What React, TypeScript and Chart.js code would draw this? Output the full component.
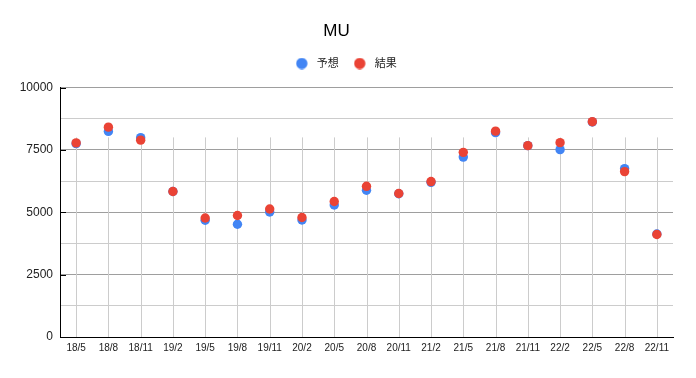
import React, { useEffect, useRef } from "react";
import { Chart, registerables } from "chart.js";

Chart.register(...registerables);

const TITLE = "MU";
const categories = ["18/5", "18/8", "18/11", "19/2", "19/5", "19/8", "19/11", "20/2", "20/5", "20/8", "20/11", "21/2", "21/5", "21/8", "21/11", "22/2", "22/5", "22/8", "22/11"];
const forecastLabel = "予想";
const actualLabel = "結果";
const forecast = [7750, 8240, 7990, 5830, 4680, 4520, 5010, 4690, 5290, 5880, 5740, 6200, 7210, 8190, 7670, 7510, 8620, 6750, 4130];
const actual = [7780, 8410, 7890, 5830, 4770, 4870, 5130, 4790, 5430, 6040, 5750, 6230, 7400, 8250, 7670, 7790, 8630, 6630, 4110];
const Y_MIN = 0;
const Y_MAX = 10000;
const Y_STEP = 1250;
const Y_LABEL_STEP = 2500;
const VGRID_TOP_VALUE = 8000;

const BLUE = "#4285F4";
const RED = "#EA4335";
const COLORS = [BLUE, RED];
const FONT = "Arial, 'Liberation Sans', 'Noto Sans CJK JP', sans-serif";
const LEGEND_HEIGHT = 50;
const LEGEND_SHIFT_X = 12;
const LEGEND_SHIFT_Y = 1;

function makeLegendDot(color: string) {
  const c = document.createElement("canvas");
  c.width = 20;
  c.height = 12;
  const g = c.getContext("2d")!;
  g.fillStyle = color;
  g.beginPath();
  g.arc(6, 6, 5.7, 0, Math.PI * 2);
  g.fill();
  return c;
}

const customPlugin = {
  id: "custom",
  beforeLayout(chart: any) {
    const lg = chart.legend;
    if (lg && !lg.__patched) {
      const origFit = lg.fit.bind(lg);
      lg.fit = function () {
        origFit();
        this.height = LEGEND_HEIGHT;
      };
      const origDraw = lg.draw.bind(lg);
      lg.draw = function () {
        const ctx = this.ctx;
        ctx.save();
        ctx.translate(LEGEND_SHIFT_X, LEGEND_SHIFT_Y);
        origDraw();
        ctx.restore();
      };
      lg.__patched = true;
    }
  },
  beforeDatasetsDraw(chart: any) {
    const x = chart.scales.x;
    const y = chart.scales.y;
    const ctx = chart.ctx;
    const area = chart.chartArea;
    const top = y.getPixelForValue(VGRID_TOP_VALUE);
    ctx.save();
    ctx.strokeStyle = "#cccccc";
    ctx.lineWidth = 1;
    for (let i = 0; i < categories.length; i++) {
      const px = Math.round(x.getPixelForValue(i)) + 0.5;
      ctx.beginPath();
      ctx.moveTo(px, top);
      ctx.lineTo(px, area.bottom);
      ctx.stroke();
    }
    ctx.strokeStyle = "#000";
    for (let v = Y_MIN + Y_LABEL_STEP; v <= Y_MAX; v += Y_LABEL_STEP) {
      const py = Math.round(y.getPixelForValue(v)) + 0.5;
      ctx.beginPath();
      ctx.moveTo(area.left, py);
      ctx.lineTo(area.left + 6, py);
      ctx.stroke();
    }
    ctx.restore();
  },
};

export default function App() {
  const ref = useRef<HTMLCanvasElement | null>(null);
  useEffect(() => {
    if (!ref.current) return;
    const dots = COLORS.map(makeLegendDot);
    const chart = new Chart(ref.current, {
      type: "scatter" as any,
      data: {
        labels: categories,
        datasets: [
          {
            label: forecastLabel,
            data: forecast,
            backgroundColor: BLUE,
            borderColor: BLUE,
            pointRadius: 4.7,
            pointBorderWidth: 0,
            showLine: false,
            order: 1,
          },
          {
            label: actualLabel,
            data: actual,
            backgroundColor: RED,
            borderColor: RED,
            pointRadius: 4.7,
            pointBorderWidth: 0,
            showLine: false,
            order: 0,
          },
        ],
      } as any,
      plugins: [customPlugin],
      options: {
        animation: false,
        responsive: false,
        layout: { padding: { left: 0, right: 23, top: 0, bottom: 0 } },
        plugins: {
          title: {
            display: true,
            text: TITLE,
            color: "#000",
            font: { family: FONT, size: 17, weight: "normal", lineHeight: 0.75 },
            padding: { top: 24.75, bottom: 0 },
          },
          legend: {
            display: true,
            labels: {
              usePointStyle: true,
              boxWidth: 11,
              boxHeight: 11,
              padding: 19.5,
              color: "#222",
              font: { family: FONT, size: 11 },
              generateLabels: (ch: any) => {
                const items = Chart.defaults.plugins.legend.labels.generateLabels(ch);
                items.forEach((it: any) => {
                  it.pointStyle = dots[it.datasetIndex];
                });
                return items.sort((a: any, b: any) => a.datasetIndex - b.datasetIndex);
              },
            },
          },
          tooltip: { enabled: false },
        },
        scales: {
          x: {
            type: "category",
            labels: categories,
            offset: true,
            grid: { display: false, drawTicks: false },
            border: { display: true, color: "#000", width: 1 },
            ticks: {
              color: "#222",
              font: { family: FONT, size: 10 },
              padding: 5,
              maxRotation: 0,
              autoSkip: false,
            },
            afterFit(scale: any) {
              scale.height = 41;
            },
          },
          y: {
            min: Y_MIN,
            max: Y_MAX,
            grid: {
              color: (c: any) => (c.tick && c.tick.value % Y_LABEL_STEP === 0 ? "#9e9e9e" : "#cccccc"),
              drawTicks: false,
            },
            border: { display: true, color: "#000", width: 1 },
            ticks: {
              stepSize: Y_STEP,
              color: "#222",
              font: { family: FONT, size: 12 },
              padding: 7,
              callback: (v: any) => (Number(v) % Y_LABEL_STEP === 0 ? String(v) : ""),
            },
            afterFit(scale: any) {
              scale.width = 60;
            },
          },
        },
      } as any,
    });
    return () => chart.destroy();
  }, []);
  return (
    <div style={{ position: "absolute", left: 0, top: 0, width: 696, height: 378, background: "#fff" }}>
      <canvas ref={ref} width={696} height={378} />
    </div>
  );
}
